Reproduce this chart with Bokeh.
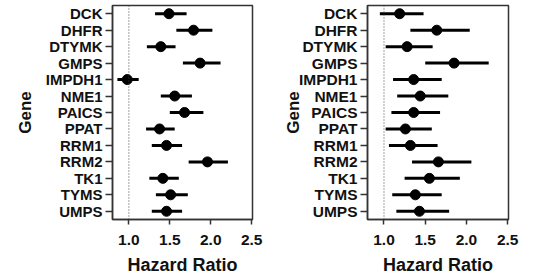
from bokeh.plotting import figure
from bokeh.models import Range1d, FactorRange, Span, FixedTicker, NumeralTickFormatter, Spacer
from bokeh.layouts import row
from bokeh.embed import file_html
from bokeh.resources import INLINE

genes = ["DCK", "DHFR", "DTYMK", "GMPS", "IMPDH1", "NME1", "PAICS", "PPAT",
         "RRM1", "RRM2", "TK1", "TYMS", "UMPS"]

hr_left = [1.49, 1.79, 1.39, 1.87, 0.98, 1.56, 1.68, 1.375, 1.46, 1.96, 1.415, 1.51, 1.46]
lo_left = [1.32, 1.58, 1.22, 1.66, 0.86, 1.39, 1.50, 1.21, 1.28, 1.73, 1.25, 1.33, 1.28]
hi_left = [1.705, 2.02, 1.57, 2.12, 1.12, 1.77, 1.91, 1.56, 1.65, 2.21, 1.61, 1.72, 1.65]

hr_right = [1.19, 1.64, 1.28, 1.85, 1.36, 1.44, 1.36, 1.26, 1.32, 1.66, 1.55, 1.38, 1.43]
lo_right = [0.95, 1.32, 1.02, 1.50, 1.11, 1.16, 1.09, 1.02, 1.06, 1.34, 1.25, 1.10, 1.15]
hi_right = [1.48, 2.04, 1.59, 2.27, 1.70, 1.78, 1.68, 1.58, 1.65, 2.06, 1.92, 1.70, 1.79]

x_ticks = [1.0, 1.5, 2.0, 2.5]
x_label = "Hazard Ratio"
y_label = "Gene"

FONT = "Liberation Sans"
INK = "#111111"
EDGE = "#333333"
X0, X1 = 0.8, 2.51
H = 278


def make_panel(hr, lo, hi, width, mbr, label_standoff, ysize):
    p = figure(width=width, height=H, output_backend="svg", toolbar_location=None,
               x_range=Range1d(X0, X1),
               y_range=FactorRange(factors=list(reversed(genes)), range_padding=0),
               min_border_left=0, min_border_right=mbr,
               min_border_top=5, min_border_bottom=59)
    p.grid.visible = False
    p.background_fill_color = "white"
    p.border_fill_color = "white"
    p.outline_line_color = EDGE
    p.outline_line_width = 1.5

    p.add_layout(Span(location=1.0, dimension="height", line_color="#444444",
                      line_width=1, line_dash="1 2"))
    p.segment(x0=lo, y0=genes, x1=hi, y1=genes, line_color="black", line_width=3)
    p.scatter(x=hr, y=genes, size=10, fill_color="black", line_color="black")

    xa = p.xaxis[0]
    xa.ticker = FixedTicker(ticks=x_ticks)
    xa.formatter = NumeralTickFormatter(format="0.0")
    xa.axis_line_color = EDGE
    xa.axis_line_width = 1.5
    xa.major_tick_line_color = EDGE
    xa.major_tick_line_width = 1.5
    xa.major_tick_out = 5
    xa.major_tick_in = 0
    xa.minor_tick_line_color = None
    xa.major_label_text_font = FONT
    xa.major_label_text_font_style = "bold"
    xa.major_label_text_font_size = "15.5px"
    xa.major_label_text_color = INK
    xa.major_label_standoff = 10
    xa.axis_label = x_label
    xa.axis_label_text_font = FONT
    xa.axis_label_text_font_style = "bold"
    xa.axis_label_text_font_size = "18px"
    xa.axis_label_text_color = INK
    xa.axis_label_standoff = 7

    ya = p.yaxis[0]
    ya.axis_line_color = EDGE
    ya.axis_line_width = 1.5
    ya.major_tick_line_color = EDGE
    ya.major_tick_line_width = 1.5
    ya.major_tick_out = 7
    ya.major_tick_in = 0
    ya.minor_tick_line_color = None
    ya.major_label_text_font = FONT
    ya.major_label_text_font_style = "bold"
    ya.major_label_text_font_size = ysize
    ya.major_label_text_color = INK
    ya.major_label_standoff = 3
    ya.axis_label = y_label
    ya.axis_label_text_font = FONT
    ya.axis_label_text_font_style = "bold"
    ya.axis_label_text_font_size = "17px"
    ya.axis_label_text_color = INK
    ya.axis_label_standoff = label_standoff
    return p


p1 = make_panel(hr_left, lo_left, hi_left, 268, 28, 8, "15px")
p2 = make_panel(hr_right, lo_right, hi_right, 248, 20, -7, "15.5px")

layout = row(Spacer(width=12, height=H), p1, p2)
open("out.html", "w").write(file_html(layout, INLINE))
